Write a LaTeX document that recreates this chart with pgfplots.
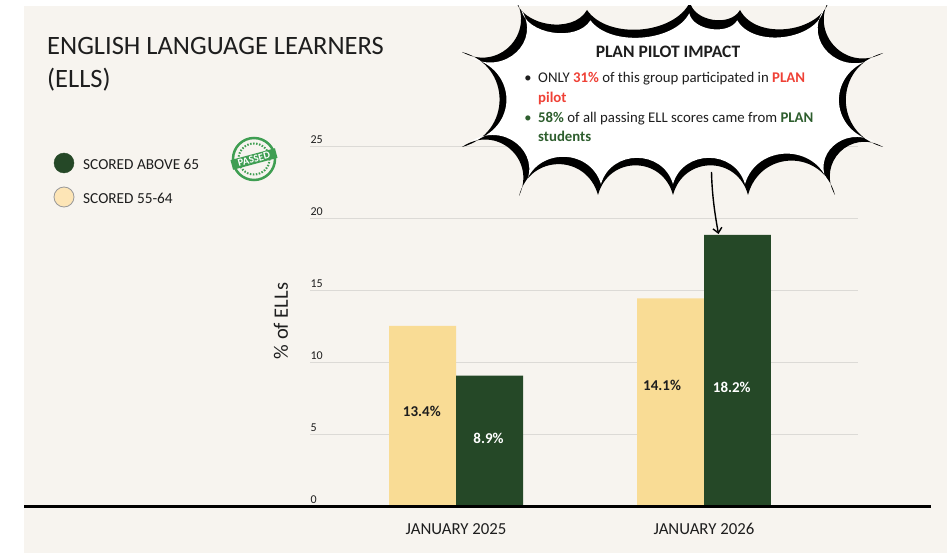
\documentclass[border=0pt]{standalone}
\usepackage{fontspec}
\setmainfont{Carlito}
\usepackage{pgfplots}
\pgfplotsset{compat=1.18}
\usetikzlibrary{arrows.meta}
\definecolor{cream}{HTML}{F7F4EF}
\definecolor{barY}{HTML}{F9DC95}
\definecolor{barG}{HTML}{254827}
\definecolor{legY}{HTML}{FDE5B6}
\definecolor{gridc}{HTML}{DCDAD6}
\definecolor{redt}{HTML}{EF4136}
\definecolor{greent}{HTML}{2E5E2E}
\definecolor{stamp}{HTML}{3F9E52}
\definecolor{txt}{HTML}{1E1E1E}
\newcommand\bubblepath{
 (515,-2) to[bend right=70, looseness=1.0] (587,10)
 to[bend right=60, looseness=0.9] (690,2)
 to[bend right=70, looseness=1.0] (740,10)
 to[bend right=70, looseness=1.0] (830,-2)
 to[bend right=75, looseness=1.4] (883,53)
 to[bend right=75, looseness=1.4] (883,147)
 to[bend right=75, looseness=1.4] (835,195)
 to[bend right=75, looseness=1.4] (748,195)
 to[bend right=75, looseness=1.4] (673,195)
 to[bend right=75, looseness=1.4] (598,195)
 to[bend right=75, looseness=1.4] (519,196)
 to[bend right=75, looseness=1.4] (462,147)
 to[bend right=75, looseness=1.4] (462,52)
 to[bend right=75, looseness=1.4] (515,-2) -- cycle}
\begin{document}
\begin{tikzpicture}[x=1pt,y=-1pt]
\fill[white] (0,0) rectangle (947,553);
\fill[cream] (24,6) rectangle (947,553);
\path[use as bounding box] (0,0) rectangle (947,553);

% title
\node[anchor=base west, inner sep=0, text=txt, font=\fontsize{26.5}{30}\selectfont] at (47,55) {ENGLISH LANGUAGE LEARNERS};
\node[anchor=base west, inner sep=0, text=txt, font=\fontsize{26.5}{30}\selectfont] at (47,88) {(ELLS)};

% legend
\draw[fill=barG, draw=barG] (64,163) circle (10);
\node[anchor=west, inner sep=0, text=txt, font=\fontsize{15.3}{18}\selectfont] at (83,164) {SCORED ABOVE 65};
\draw[fill=legY, draw=gray!80, line width=0.8pt] (64,197) circle (10);
\node[anchor=west, inner sep=0, text=txt, font=\fontsize{15.3}{18}\selectfont] at (83,198) {SCORED 55-64};

% stamp
\draw[stamp, line width=2.5pt] (254,159) circle (21);
\draw[stamp, line width=2pt, dash pattern=on 1.5pt off 1.5pt] (254,159) circle (15.5);
\node[fill=stamp, rotate=15, text=white, inner xsep=2pt, inner ysep=1.5pt, minimum width=46pt, font=\bfseries\fontsize{10.5}{11}\selectfont] at (254,159) {PASSED};

\begin{axis}[
  at={(310pt,-506.7pt)}, anchor=south west,
  scale only axis, width=548pt, height=360pt,
  xmin=-0.589, xmax=1.621, ymin=0, ymax=25,
  axis line style={draw=none},
  major tick length=0pt,
  ytick={0,5,10,15,20,25},
  ymajorgrids, grid style={draw=gridc, line width=1.2pt},
  xtick={0,1}, xticklabels={JANUARY 2025, JANUARY 2026},
  /pgf/number format/assume math mode=true,
  yticklabel style={anchor=south west, xshift=-3pt, text=txt, font=\fontsize{12}{14}\selectfont},
  xticklabel style={yshift=-13pt, text=txt, font=\fontsize{16.8}{19}\selectfont},
  clip=false,
]
\addplot[ybar, bar width=0.27, bar shift=0pt, fill=barY, draw=none] coordinates {(-0.135,12.55) (0.865,14.47)};
\addplot[ybar, bar width=0.27, bar shift=0pt, fill=barG, draw=none] coordinates {(0.135,9.1) (1.135,18.87)};
\addplot[draw=none, mark=none, nodes near coords, point meta=explicit symbolic,
  nodes near coords style={anchor=center, text=txt, font=\bfseries\fontsize{15}{18}\selectfont}]
  coordinates {(-0.138,6.65)[13.4\%] (0.831,8.4)[14.1\%]};
\addplot[draw=none, mark=none, nodes near coords, point meta=explicit symbolic,
  nodes near coords style={anchor=center, text=white, font=\bfseries\fontsize{15}{18}\selectfont}]
  coordinates {(0.131,4.77)[8.9\%] (1.112,8.31)[18.2\%]};
\end{axis}

% y label
\node[rotate=90, text=txt, font=\fontsize{20.5}{24}\selectfont] at (281,321) {\% of ELLs};

% baseline
\draw[black, line width=2.5pt] (24,506.7) -- (931,506.7);

% bubble
\begin{scope}
\clip (24,6) rectangle (947,553);
\fill[black] \bubblepath;
\begin{scope}[shift={(672,100)}, xscale=0.96, yscale=0.885, shift={(-672,-100)}]
\fill[white] \bubblepath;
\end{scope}
\end{scope}

\node[anchor=base, inner sep=0, text=txt, font=\bfseries\fontsize{17.5}{20}\selectfont] at (668,58) {PLAN PILOT IMPACT};
\node[anchor=base, inner sep=0, text=txt, font=\fontsize{14.5}{17}\selectfont] at (528,83) {\textbullet};
\node[anchor=base west, inner sep=0, text=txt, font=\fontsize{14.8}{17}\selectfont] at (538,83) {ONLY \textbf{\color{redt}31\%} of this group participated in \textbf{\color{redt}PLAN}};
\node[anchor=base west, inner sep=0, font=\fontsize{14.8}{17}\selectfont] at (538,102.5) {\textbf{\color{redt}pilot}};
\node[anchor=base, inner sep=0, text=greent, font=\fontsize{14.5}{17}\selectfont] at (528,122.5) {\textbullet};
\node[anchor=base west, inner sep=0, text=txt, font=\fontsize{14.8}{17}\selectfont] at (538,122.5) {\textbf{\color{greent}58\%} of all passing ELL scores came from \textbf{\color{greent}PLAN}};
\node[anchor=base west, inner sep=0, font=\fontsize{14.8}{17}\selectfont] at (538,142) {\textbf{\color{greent}students}};

% arrow
\draw[line width=1.4pt, -{Straight Barb[length=5pt, width=9pt]}] (711.5,172) .. controls (712,195) and (715,215) .. (718.5,234);
\end{tikzpicture}
\end{document}
